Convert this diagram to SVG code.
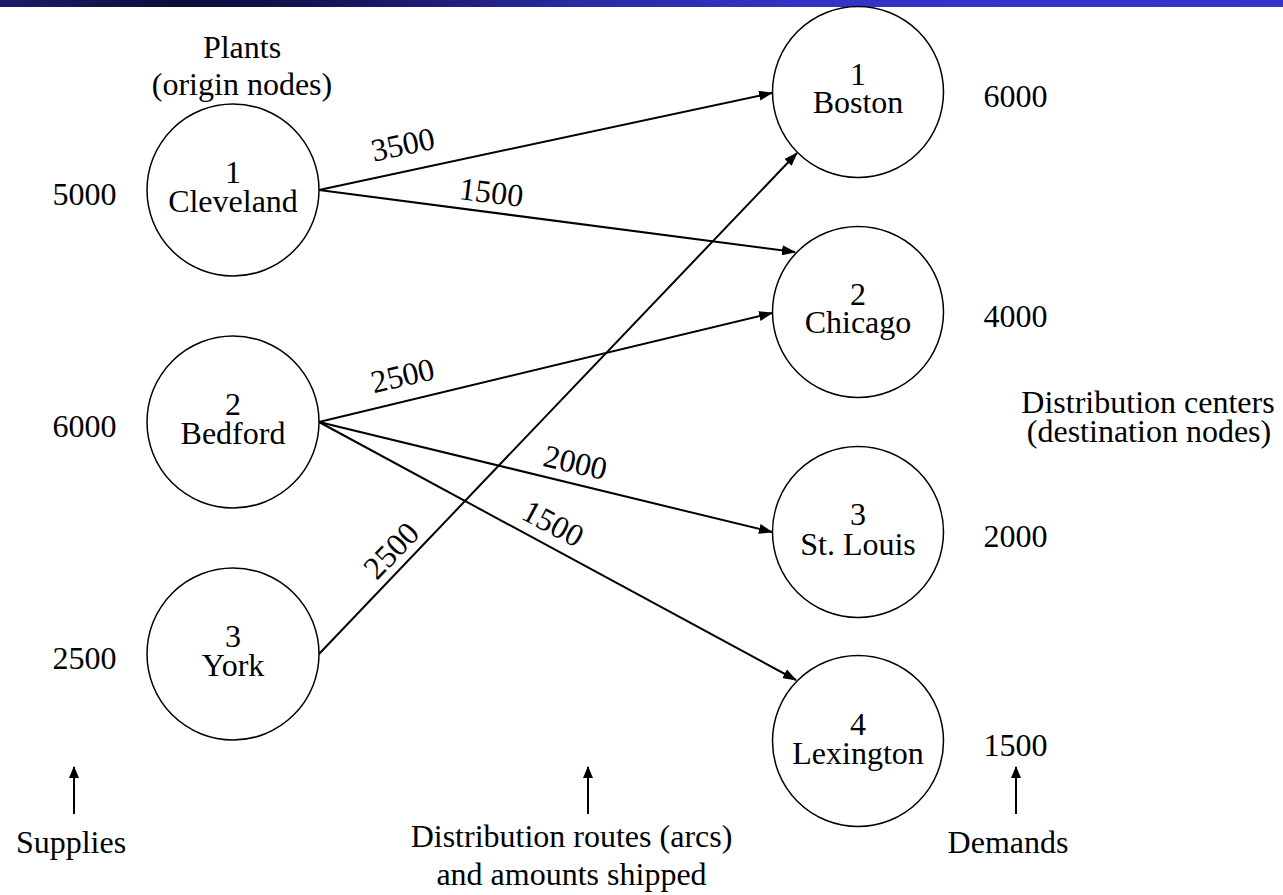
<svg xmlns="http://www.w3.org/2000/svg" width="1283" height="895" viewBox="0 0 1283 895">
<defs>
<linearGradient id="bar" x1="0" y1="0" x2="1" y2="0">
<stop offset="0" stop-color="#1c1c6a"/>
<stop offset="0.14" stop-color="#0c0c3a"/>
<stop offset="0.25" stop-color="#141454"/>
<stop offset="0.45" stop-color="#2a2aa4"/>
<stop offset="0.62" stop-color="#3232c4"/>
<stop offset="1" stop-color="#3535cc"/>
</linearGradient>
<marker id="ah" markerUnits="userSpaceOnUse" markerWidth="14" markerHeight="10" refX="13" refY="5" orient="auto">
<path d="M0,0 L14,5 L0,10 z" fill="#000"/>
</marker>
<marker id="up" markerUnits="userSpaceOnUse" markerWidth="12" markerHeight="10" refX="11" refY="5" orient="auto">
<path d="M0,0 L12,5 L0,10 z" fill="#000"/>
</marker>
</defs>
<style>
text{font-family:"Liberation Serif","Times New Roman",serif;font-size:32px;fill:#000;text-anchor:middle}
.node circle{fill:#fff;stroke:#000;stroke-width:1.5}
.edge{stroke:#000;stroke-width:2;fill:none;marker-end:url(#ah)}
.ptr{stroke:#000;stroke-width:2;fill:none;marker-end:url(#up)}
</style>
<rect x="0" y="0" width="1283" height="895" fill="#fff"/>
<rect x="0" y="0" width="1283" height="7" fill="url(#bar)"/>

<g id="connectors">
<line class="edge" x1="319" y1="190" x2="772" y2="93"/>
<line class="edge" x1="319" y1="190" x2="795" y2="252"/>
<line class="edge" x1="319" y1="422" x2="772" y2="313"/>
<line class="edge" x1="319" y1="422" x2="772" y2="532"/>
<line class="edge" x1="319" y1="422" x2="796" y2="680"/>
<line class="edge" x1="319" y1="654" x2="797" y2="153"/>
<line class="ptr" x1="74" y1="814" x2="74" y2="767"/>
<line class="ptr" x1="588" y1="814" x2="588" y2="767"/>
<line class="ptr" x1="1016" y1="814" x2="1016" y2="767"/>
</g>

<g id="edge-labels">
<text transform="translate(405,155) rotate(-12)">3500</text>
<text transform="translate(490,203) rotate(7)">1500</text>
<text transform="translate(405,386) rotate(-13)">2500</text>
<text transform="translate(573,473) rotate(13)">2000</text>
<text transform="translate(548,533) rotate(28)">1500</text>
<text transform="translate(399,558) rotate(-46)">2500</text>
</g>

<g id="node-cleveland" class="node">
<circle cx="233" cy="190" r="86"/>
<text x="233" y="183">1</text>
<text x="233" y="212">Cleveland</text>
</g>
<g id="node-bedford" class="node">
<circle cx="233" cy="422" r="86"/>
<text x="233" y="415">2</text>
<text x="233" y="444">Bedford</text>
</g>
<g id="node-york" class="node">
<circle cx="233" cy="654" r="86"/>
<text x="233" y="647">3</text>
<text x="233" y="676">York</text>
</g>
<g id="node-boston" class="node">
<circle cx="858" cy="92" r="85.5"/>
<text x="858" y="85">1</text>
<text x="858" y="113">Boston</text>
</g>
<g id="node-chicago" class="node">
<circle cx="858" cy="312" r="85.5"/>
<text x="858" y="305">2</text>
<text x="858" y="333">Chicago</text>
</g>
<g id="node-stlouis" class="node">
<circle cx="858" cy="532" r="85.5"/>
<text x="858" y="525">3</text>
<text x="858" y="555">St. Louis</text>
</g>
<g id="node-lexington" class="node">
<circle cx="858" cy="741" r="85.5"/>
<text x="858" y="735">4</text>
<text x="858" y="764">Lexington</text>
</g>

<g id="supplies">
<text x="84.5" y="205">5000</text>
<text x="84.5" y="437">6000</text>
<text x="84.5" y="669">2500</text>
</g>
<g id="demands">
<text x="1015.5" y="107">6000</text>
<text x="1015.5" y="327">4000</text>
<text x="1015.5" y="547">2000</text>
<text x="1015.5" y="756">1500</text>
</g>

<g id="captions">
<text x="242" y="58">Plants</text>
<text x="242" y="95">(origin nodes)</text>
<text x="1148" y="413">Distribution centers</text>
<text x="1149" y="442">(destination nodes)</text>
<text x="71" y="853">Supplies</text>
<text x="571.5" y="847">Distribution routes (arcs)</text>
<text x="571.5" y="885">and amounts shipped</text>
<text x="1008" y="853">Demands</text>
</g>
</svg>
